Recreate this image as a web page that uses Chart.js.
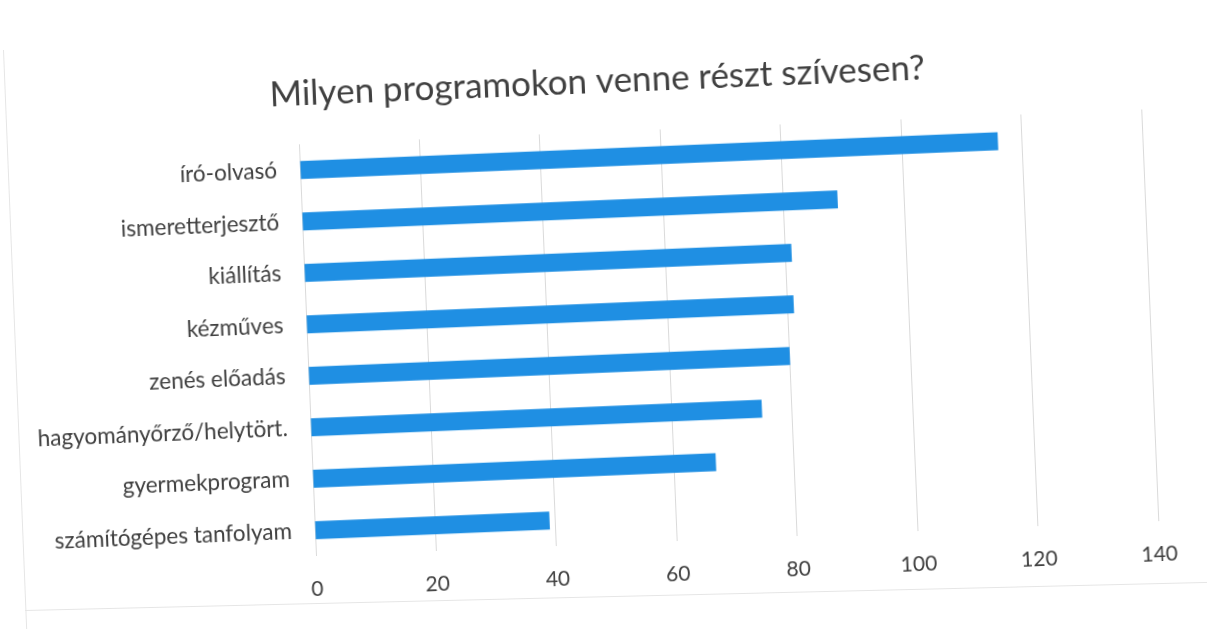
<!doctype html>
<html>
<head>
<meta charset="utf-8">
<title>Milyen programokon venne részt szívesen?</title>
<script src="https://cdn.jsdelivr.net/npm/chart.js@4.4.1/dist/chart.umd.min.js"></script>
<style>
html, body {
	margin: 0;
	padding: 0;
	background: #ffffff;
	overflow: hidden;
}
#sheet {
	position: absolute;
	left: 0;
	top: 0;
	width: 1207px;
	height: 629px;
	transform-origin: 316px 556px;
	transform: rotate(-2.37deg);
}
.edge {
	position: absolute;
	background: #e6e6e6;
	transform-origin: 0 0;
}
#edgeLeft {
	left: 3px;
	top: 50px;
	width: 1px;
	height: 580px;
	transform: rotate(-2.29deg);
}
#edgeBottom {
	left: 25px;
	top: 610px;
	width: 1190px;
	height: 1px;
	transform: rotate(-1.36deg);
}
#container {
	position: absolute;
	left: 0;
	top: 0;
	width: 1207px;
	height: 629px;
}
</style>
</head>
<body>
	<div class="edge" id="edgeLeft"></div>
	<div class="edge" id="edgeBottom"></div>
	<div id="sheet">
		<div id="container">
			<canvas id="canvas" width="1207" height="629"></canvas>
		</div>
	</div>

	<script>
		var categories = [
			'író-olvasó',
			'ismeretterjesztő',
			'kiállítás',
			'kézműves',
			'zenés előadás',
			'hagyományőrző/helytört.',
			'gyermekprogram',
			'számítógépes tanfolyam'
		];
		var answers = [116, 89, 81, 81, 80, 75, 67, 39];
		var xTicks = [0, 20, 40, 60, 80, 100, 120, 140];

		var textColor = '#404040';
		var barColor = '#1f8fe3';

		// title sits a bit right of the canvas centre in the original
		var titleShift = {
			id: 'titleShift',
			afterLayout: function(chart) {
				chart.titleBlock.left += 27;
				chart.titleBlock.right += 27;
			}
		};

		var ctx = document.getElementById('canvas').getContext('2d');
		window.myChart = new Chart(ctx, {
			type: 'bar',
			data: {
				labels: categories,
				datasets: [{
					label: 'válaszok',
					data: answers,
					backgroundColor: barColor,
					borderWidth: 0,
					barPercentage: 0.35,
					categoryPercentage: 1
				}]
			},
			options: {
				indexAxis: 'y',
				responsive: false,
				animation: false,
				layout: {
					padding: { left: 20, right: 48, top: 0, bottom: 13 }
				},
				plugins: {
					legend: { display: false },
					tooltip: { enabled: false },
					title: {
						display: true,
						text: 'Milyen programokon venne részt szívesen?',
						color: textColor,
						font: { family: 'Lato', size: 35, weight: 'normal' },
						padding: { top: 73, bottom: 29 }
					}
				},
				scales: {
					x: {
						min: 0,
						max: 140,
						afterBuildTicks: function(scale) {
							scale.ticks = xTicks.map(function(v) { return { value: v }; });
						},
						afterFit: function(scale) {
							scale.height = 60;
						},
						grid: {
							color: '#dadada',
							lineWidth: 1,
							drawTicks: false
						},
						border: { display: false },
						ticks: {
							color: textColor,
							padding: 21,
							maxRotation: 0,
							font: { family: 'Lato', size: 21 }
						}
					},
					y: {
						afterFit: function(scale) {
							scale.width = 296;
						},
						grid: { display: false, drawTicks: false },
						border: { display: false },
						ticks: {
							color: textColor,
							padding: 23,
							font: { family: 'Lato', size: 22.5 }
						}
					}
				}
			},
			plugins: [titleShift]
		});
	</script>
</body>
</html>
